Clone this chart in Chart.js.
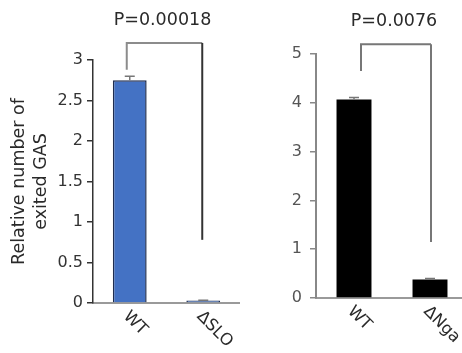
<!DOCTYPE html>
<html><head><meta charset="utf-8">
<script src="https://cdn.jsdelivr.net/npm/chart.js@4/dist/chart.umd.min.js"></script>
<style>
html,body{margin:0;padding:0;background:#fff;overflow:hidden;width:462px;height:353px;position:relative;}
#l{position:absolute;left:0;top:0;width:240px;height:353px;}
#r{position:absolute;left:240px;top:0;width:228px;height:353px;}
</style></head><body>
<div id="l"><canvas id="c1"></canvas></div>
<div id="r"><canvas id="c2"></canvas></div>
<script>
// ---- Data: left panel (GAS exit, WT vs ΔSLO) ----
const categoriesA = ['WT', 'ΔSLO'];
const valuesA = [2.75, 0.03];
const errorsA = [0.05, 0.005];
const ticksA = [0, 0.5, 1, 1.5, 2, 2.5, 3];
const pLabelA = 'P=0.00018';
const bracketA = [3.21, 2.88, 0.78]; // top, left-leg end, right-leg end (data units)

// ---- Data: right panel (WT vs ΔNga) ----
const categoriesB = ['WT', 'ΔNga'];
const valuesB = [4.07, 0.38];
const errorsB = [0.04, 0.02];
const ticksB = [0, 1, 2, 3, 4, 5];
const pLabelB = 'P=0.0076';
const bracketB = [5.2, 4.65, 1.15];

const yTitle = ['Relative number of', 'exited GAS'];

const FONT = 'DejaVu Sans';

const annot = {
  id: 'annot',
  afterDatasetsDraw(chart, args, o) {
    const ctx = chart.ctx, xs = chart.scales.x, ys = chart.scales.y;
    const ca = chart.chartArea;
    ctx.save();
    // error bars
    ctx.strokeStyle = o.errColor; ctx.lineWidth = 1.5;
    o.values.forEach((v, i) => {
      const x = xs.getPixelForValue(i);
      const yb = ys.getPixelForValue(v), yt = ys.getPixelForValue(v + o.errors[i]);
      ctx.beginPath();
      ctx.moveTo(x, yb); ctx.lineTo(x, yt);
      ctx.moveTo(x - 5, yt); ctx.lineTo(x + 5, yt);
      ctx.stroke();
    });
    // bracket
    const xl = xs.getPixelForValue(0) + o.legOff[0];
    const xr = xs.getPixelForValue(1) + o.legOff[1];
    const yTop = ys.getPixelForValue(o.bracket[0]);
    const yL = ys.getPixelForValue(o.bracket[1]);
    const yR = ys.getPixelForValue(o.bracket[2]);
    ctx.lineWidth = 2;
    ctx.strokeStyle = o.brColor;
    ctx.beginPath();
    ctx.moveTo(xl, yL); ctx.lineTo(xl, yTop); ctx.lineTo(xr, yTop);
    ctx.stroke();
    ctx.strokeStyle = o.brColor2;
    ctx.beginPath();
    ctx.moveTo(xr, yTop); ctx.lineTo(xr, yR);
    ctx.stroke();
    // P label
    ctx.fillStyle = '#2a2a2a';
    ctx.font = '17.5px "' + FONT + '"';
    ctx.textAlign = 'center'; ctx.textBaseline = 'middle';
    ctx.fillText(o.pLabel, (xl + xr) / 2 - 2, yTop - 23);
    // rotated category labels
    ctx.font = '16.5px "' + FONT + '"';
    ctx.fillStyle = '#2a2a2a';
    ctx.textAlign = 'left'; ctx.textBaseline = 'middle';
    o.labels.forEach((lab, i) => {
      const x = xs.getPixelForValue(i) - 4;
      const y = ca.bottom + 11;
      ctx.save();
      ctx.translate(x, y);
      ctx.rotate(Math.PI / 4);
      ctx.fillText(lab, 0, 0);
      ctx.restore();
    });
    ctx.restore();
  }
};

function makeChart(id, cats, vals, errs, ticks, maxV, pLabel, bracket, opts) {
  return new Chart(document.getElementById(id), {
    type: 'bar',
    data: {
      labels: cats,
      datasets: [{
        data: vals,
        backgroundColor: opts.fill,
        borderColor: opts.border,
        borderWidth: opts.borderWidth,
        barPercentage: 0.92,
        categoryPercentage: 0.5
      }]
    },
    plugins: [annot],
    options: {
      responsive: true,
      maintainAspectRatio: false,
      animation: false,
      layout: { padding: opts.padding },
      plugins: {
        legend: { display: false },
        tooltip: { enabled: false },
        annot: {
          values: vals, errors: errs, bracket: bracket, pLabel: pLabel, labels: cats,
          legOff: opts.legOff, errColor: opts.errColor, brColor: opts.brColor, brColor2: opts.brColor2
        }
      },
      scales: {
        x: {
          type: 'category',
          offset: true,
          grid: { display: false, drawTicks: false },
          ticks: { display: false },
          border: { display: true, color: '#9a9a9a', width: 2 }
        },
        y: {
          min: 0, max: maxV,
          afterBuildTicks: s => { s.ticks = ticks.map(v => ({ value: v })); },
          afterFit: s => { s.width = opts.yWidth; },
          grid: { display: true, drawOnChartArea: false, drawTicks: true, tickLength: 6, color: opts.axisColor, lineWidth: 1.5 },
          border: { display: true, color: opts.axisColor, width: opts.axisWidth },
          ticks: {
            padding: opts.tickPad,
            color: opts.tickColor,
            font: { family: FONT, size: 16 },
            callback: v => String(v)
          },
          title: opts.title ? {
            display: true,
            text: opts.title,
            color: '#2a2a2a',
            font: { family: FONT, size: 17.5, lineHeight: 1.23 },
            padding: { top: 9, bottom: 0 }
          } : { display: false }
        }
      }
    }
  });
}

makeChart('c1', categoriesA, valuesA, errorsA, ticksA, 3, pLabelA, bracketA, {
  fill: '#4472C4', border: '#1f2d4f', borderWidth: 1.5,
  padding: { top: 60, bottom: 50, left: 0, right: 0 },
  yWidth: 93, tickPad: 4, tickColor: '#333', axisColor: '#333', axisWidth: 1.5,
  title: yTitle, legOff: [-3, -1], errColor: '#777', brColor: '#8c8c8c', brColor2: '#333'
});

makeChart('c2', categoriesB, valuesB, errorsB, ticksB, 5, pLabelB, bracketB, {
  fill: '#000', border: '#000', borderWidth: 0,
  padding: { top: 54, bottom: 55, left: 0, right: 0 },
  yWidth: 76, tickPad: 8, tickColor: '#555', axisColor: '#888', axisWidth: 2,
  title: null, legOff: [7, 1], errColor: '#777', brColor: '#777', brColor2: '#777'
});
</script>
</body></html>
